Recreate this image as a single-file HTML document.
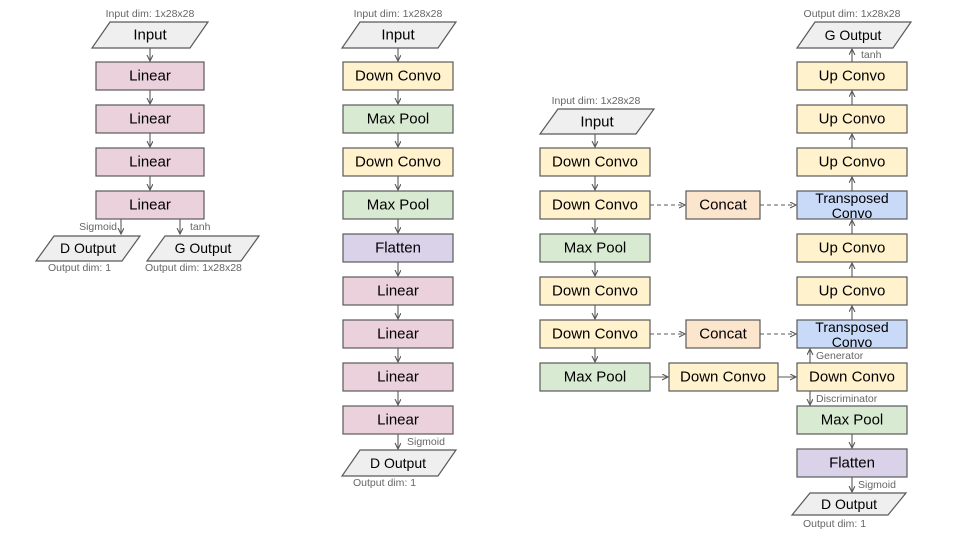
<!DOCTYPE html>
<html><head><meta charset="utf-8"><style>
body{margin:0;background:#fff}
svg{display:block;font-family:"Liberation Sans",sans-serif}
.b{stroke:#595959;stroke-width:1.2}
.t{font-size:15px;fill:#000;text-anchor:middle;dominant-baseline:central}
.s{font-size:10.5px;fill:#666}
path{stroke:#595959;stroke-width:1.1;fill:none;marker-end:url(#a)}
.d{stroke-dasharray:4 3}
</style></head><body>
<svg width="960" height="540" viewBox="0 0 960 540">
<defs><marker id="a" markerWidth="8" markerHeight="8" refX="6" refY="3" orient="auto" markerUnits="userSpaceOnUse"><polyline points="0,0 6,3 0,6" fill="none" stroke="#595959" stroke-width="1.1"/></marker></defs>

<!-- Column 1 -->
<text class="s" x="150" y="17" text-anchor="middle">Input dim: 1x28x28</text>
<polygon class="b" fill="#efefef" points="110,22 208,22 190,48 92,48"/><text class="t" x="150" y="35">Input</text>
<rect class="b" fill="#ead1dc" x="96" y="62" width="108" height="28"/><text class="t" x="150" y="76">Linear</text>
<rect class="b" fill="#ead1dc" x="96" y="105" width="108" height="28"/><text class="t" x="150" y="119">Linear</text>
<rect class="b" fill="#ead1dc" x="96" y="148" width="108" height="28"/><text class="t" x="150" y="162">Linear</text>
<rect class="b" fill="#ead1dc" x="96" y="191" width="108" height="28"/><text class="t" x="150" y="205">Linear</text>
<path d="M150,48V61"/><path d="M150,90V104"/><path d="M150,133V147"/><path d="M150,176V190"/><path d="M121,219V234"/><path d="M180,219V234"/>
<text class="s" x="117" y="230" text-anchor="end">Sigmoid</text><text class="s" x="190" y="230">tanh</text>
<polygon class="b" fill="#efefef" points="54,236 140,236 122,261 36,261"/><text class="t" x="88" y="248" style="font-size:14px">D Output</text>
<polygon class="b" fill="#efefef" points="165,236 259,236 241,261 147,261"/><text class="t" x="203" y="248" style="font-size:14px">G Output</text>
<text class="s" x="48" y="271">Output dim: 1</text><text class="s" x="145" y="271">Output dim: 1x28x28</text>

<!-- Column 2 -->
<text class="s" x="398" y="17" text-anchor="middle">Input dim: 1x28x28</text>
<polygon class="b" fill="#efefef" points="360,22 456,22 438,48 342,48"/><text class="t" x="398" y="35">Input</text>
<rect class="b" fill="#fff2cc" x="343" y="62" width="110" height="28"/><text class="t" x="398" y="76">Down Convo</text>
<rect class="b" fill="#d9ead3" x="343" y="105" width="110" height="28"/><text class="t" x="398" y="119">Max Pool</text>
<rect class="b" fill="#fff2cc" x="343" y="148" width="110" height="28"/><text class="t" x="398" y="162">Down Convo</text>
<rect class="b" fill="#d9ead3" x="343" y="191" width="110" height="28"/><text class="t" x="398" y="205">Max Pool</text>
<rect class="b" fill="#d9d2e9" x="343" y="234" width="110" height="28"/><text class="t" x="398" y="248">Flatten</text>
<rect class="b" fill="#ead1dc" x="343" y="277" width="110" height="28"/><text class="t" x="398" y="291">Linear</text>
<rect class="b" fill="#ead1dc" x="343" y="320" width="110" height="28"/><text class="t" x="398" y="334">Linear</text>
<rect class="b" fill="#ead1dc" x="343" y="363" width="110" height="28"/><text class="t" x="398" y="377">Linear</text>
<rect class="b" fill="#ead1dc" x="343" y="406" width="110" height="28"/><text class="t" x="398" y="420">Linear</text>
<path d="M398,48V61"/><path d="M398,90V104"/><path d="M398,133V147"/><path d="M398,176V190"/><path d="M398,219V233"/><path d="M398,262V276"/><path d="M398,305V319"/><path d="M398,348V362"/><path d="M398,391V405"/><path d="M398,434V449"/>
<text class="s" x="407" y="445">Sigmoid</text>
<polygon class="b" fill="#efefef" points="360,450 456,450 438,476 342,476"/><text class="t" x="398" y="463" style="font-size:14px">D Output</text>
<text class="s" x="353" y="486">Output dim: 1</text>

<!-- Column 3 -->
<text class="s" x="596" y="104" text-anchor="middle">Input dim: 1x28x28</text>
<polygon class="b" fill="#efefef" points="558,109 654,109 636,134 540,134"/><text class="t" x="597" y="122">Input</text>
<rect class="b" fill="#fff2cc" x="540" y="148" width="110" height="28"/><text class="t" x="595" y="162">Down Convo</text>
<rect class="b" fill="#fff2cc" x="540" y="191" width="110" height="28"/><text class="t" x="595" y="205">Down Convo</text>
<rect class="b" fill="#d9ead3" x="540" y="234" width="110" height="28"/><text class="t" x="595" y="248">Max Pool</text>
<rect class="b" fill="#fff2cc" x="540" y="277" width="110" height="28"/><text class="t" x="595" y="291">Down Convo</text>
<rect class="b" fill="#fff2cc" x="540" y="320" width="110" height="28"/><text class="t" x="595" y="334">Down Convo</text>
<rect class="b" fill="#d9ead3" x="540" y="363" width="110" height="28"/><text class="t" x="595" y="377">Max Pool</text>
<path d="M595,134V147"/><path d="M595,176V190"/><path d="M595,219V233"/><path d="M595,262V276"/><path d="M595,305V319"/><path d="M595,348V362"/>
<rect class="b" fill="#fce5cd" x="686" y="191" width="74" height="28"/><text class="t" x="723" y="205">Concat</text>
<rect class="b" fill="#fce5cd" x="686" y="320" width="74" height="28"/><text class="t" x="723" y="334">Concat</text>
<path class="d" d="M650,205H685"/><path class="d" d="M760,205H796"/><path class="d" d="M650,334H685"/><path class="d" d="M760,334H796"/>
<rect class="b" fill="#fff2cc" x="669" y="363" width="109" height="28"/><text class="t" x="723" y="377">Down Convo</text>
<path d="M650,377H668"/><path d="M778,377H796"/>

<!-- Column 4 -->
<polygon class="b" fill="#efefef" points="815,22 911,22 893,48 797,48"/><text class="t" x="853" y="35" style="font-size:14px">G Output</text>
<text class="s" x="852" y="17" text-anchor="middle">Output dim: 1x28x28</text>
<text class="s" x="861" y="58">tanh</text>
<rect class="b" fill="#fff2cc" x="797" y="62" width="110" height="28"/><text class="t" x="852" y="76">Up Convo</text>
<rect class="b" fill="#fff2cc" x="797" y="105" width="110" height="28"/><text class="t" x="852" y="119">Up Convo</text>
<rect class="b" fill="#fff2cc" x="797" y="148" width="110" height="28"/><text class="t" x="852" y="162">Up Convo</text>
<rect class="b" fill="#c9daf8" x="797" y="191" width="110" height="28"/><text class="t" x="852" y="198" style="font-size:14px">Transposed</text><text class="t" x="852" y="213" style="font-size:14px">Convo</text>
<rect class="b" fill="#fff2cc" x="797" y="234" width="110" height="28"/><text class="t" x="852" y="248">Up Convo</text>
<rect class="b" fill="#fff2cc" x="797" y="277" width="110" height="28"/><text class="t" x="852" y="291">Up Convo</text>
<rect class="b" fill="#c9daf8" x="797" y="320" width="110" height="28"/><text class="t" x="852" y="327" style="font-size:14px">Transposed</text><text class="t" x="852" y="342" style="font-size:14px">Convo</text>
<rect class="b" fill="#fff2cc" x="797" y="363" width="110" height="28"/><text class="t" x="852" y="377">Down Convo</text>
<rect class="b" fill="#d9ead3" x="797" y="406" width="110" height="28"/><text class="t" x="852" y="420">Max Pool</text>
<rect class="b" fill="#d9d2e9" x="797" y="449" width="110" height="28"/><text class="t" x="852" y="463">Flatten</text>
<path d="M852,62V49"/><path d="M852,105V91"/><path d="M852,148V134"/><path d="M852,191V177"/><path d="M852,234V220"/><path d="M852,277V263"/><path d="M852,320V306"/><path d="M810,363V349"/><path d="M810,391V405"/><path d="M852,434V448"/><path d="M852,477V492"/>
<text class="s" x="816" y="359">Generator</text>
<text class="s" x="816" y="402">Discriminator</text>
<text class="s" x="858" y="488">Sigmoid</text>
<polygon class="b" fill="#efefef" points="810,493 906,493 888,515 792,515"/><text class="t" x="849" y="504" style="font-size:14px">D Output</text>
<text class="s" x="803" y="527">Output dim: 1</text>
</svg>
</body></html>
